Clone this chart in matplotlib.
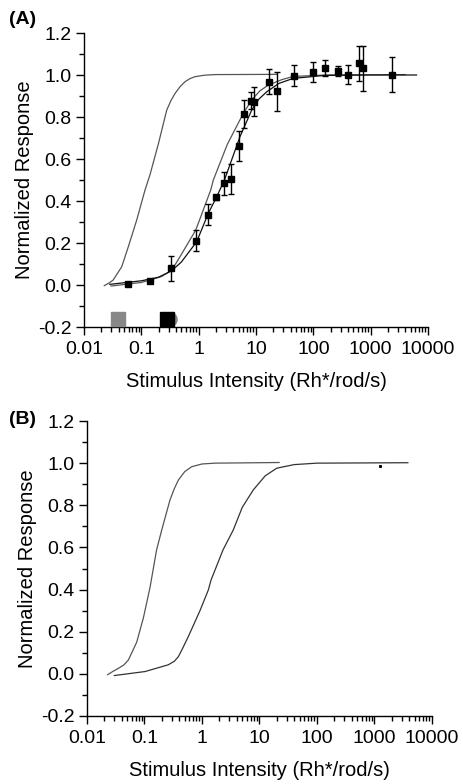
import matplotlib
matplotlib.use("Agg")
import matplotlib.pyplot as plt
import numpy as np
from matplotlib.ticker import LogLocator, MultipleLocator, NullFormatter

plt.rcParams['font.family'] = ['Liberation Sans', 'DejaVu Sans']

# ---- Panel A data ----
a_x = [0.058, 0.14, 0.334, 0.90, 1.48, 2.0, 2.77, 3.63, 5.1, 6.2, 8.1, 9.2,
       16.6, 23.5, 46, 98, 161, 267, 400, 630, 740, 2400]
a_y = [0.003, 0.021, 0.079, 0.21, 0.335, 0.417, 0.484, 0.505, 0.662, 0.814, 0.877, 0.873,
       0.968, 0.922, 0.996, 1.014, 1.033, 1.017, 1.001, 1.056, 1.032, 1.001]
a_err = [0.008, 0.008, 0.06, 0.05, 0.05, 0.01, 0.056, 0.07, 0.073, 0.066, 0.04, 0.07,
         0.06, 0.094, 0.05, 0.047, 0.038, 0.024, 0.045, 0.084, 0.107, 0.083]

# fitted / reference curves (log10 intensity, normalized response)
a_left_logx = [-1.646, -1.56, -1.49, -1.342, -1.227, -1.08, -0.936, -0.849, -0.70, -0.557,
               -0.48, -0.41, -0.326, -0.238, -0.15, -0.064, 0.1, 0.285, 1.36]
a_left_y = [-0.003, 0.01, 0.024, 0.087, 0.182, 0.31, 0.452, 0.525, 0.675, 0.833,
            0.88, 0.913, 0.944, 0.968, 0.983, 0.992, 0.999, 1.002, 1.003]

a_gray_logx = [-1.53, -1.0, -0.65, -0.47, -0.325, -0.05, 0.21, 0.256, 0.5, 0.78, 0.925,
               1.07, 1.215, 1.45, 1.65, 2.2, 3.6]
a_gray_y = [-0.005, 0.012, 0.04, 0.07, 0.135, 0.262, 0.452, 0.5, 0.67, 0.818, 0.881,
            0.925, 0.952, 0.978, 0.993, 1.0, 1.002]

a_black_logx = [-1.55, -1.0, -0.7, -0.47, -0.3, -0.035, 0.168, 0.314, 0.45, 0.72, 0.925,
                1.05, 1.187, 1.4, 1.65, 2.2, 3.0, 3.8]
a_black_y = [0.003, 0.02, 0.037, 0.068, 0.11, 0.206, 0.341, 0.42, 0.5, 0.706, 0.833,
             0.885, 0.92, 0.96, 0.984, 0.998, 1.0, 1.0]

# markers on the baseline
base_gray_sq_x = [0.039]
base_black_sq_x = [0.28]
base_gray_circ_x = [0.32]
base_y = [-0.162]

# ---- Panel B curves ----
b_left_logx = [-1.64, -1.56, -1.456, -1.36, -1.28, -1.136, -1.02, -0.904, -0.79, -0.70,
               -0.557, -0.48, -0.41, -0.3, -0.18, 0.0, 0.226, 1.34]
b_left_y = [-0.004, 0.01, 0.026, 0.042, 0.066, 0.15, 0.265, 0.41, 0.588, 0.683,
            0.825, 0.88, 0.92, 0.96, 0.983, 0.996, 1.0, 1.003]

b_right_logx = [-1.525, -0.99, -0.586, -0.48, -0.41, -0.33, -0.238, -0.035, 0.11, 0.157,
                0.365, 0.544, 0.7, 0.892, 1.1, 1.30, 1.6, 2.0, 3.58]
b_right_y = [-0.008, 0.011, 0.043, 0.06, 0.082, 0.125, 0.177, 0.30, 0.398, 0.445,
             0.588, 0.683, 0.79, 0.873, 0.94, 0.976, 0.993, 1.0, 1.002]

b_dot_x = [1259]
b_dot_y = [0.988]

xticks = [0.01, 0.1, 1, 10, 100, 1000, 10000]
xticklabels = ['0.01', '0.1', '1', '10', '100', '1000', '10000']
yticks = [-0.2, 0.0, 0.2, 0.4, 0.6, 0.8, 1.0, 1.2]
yticklabels = ['-0.2', '0.0', '0.2', '0.4', '0.6', '0.8', '1.0', '1.2']

fig = plt.figure(figsize=(4.64, 7.84), dpi=100)
axA = fig.add_axes([84/464, 1-327/784, 344/464, 294/784])
axB = fig.add_axes([87/464, 1-716/784, 345/464, 295/784])

FS = 14
LFS = 14.5


def style(ax):
    ax.set_xscale('log')
    ax.set_xlim(0.01, 10000)
    ax.set_ylim(-0.2, 1.2)
    for s in ['top', 'right']:
        ax.spines[s].set_visible(False)
    for s in ['left', 'bottom']:
        ax.spines[s].set_linewidth(1.0)
    ax.set_xticks(xticks)
    ax.set_xticklabels(xticklabels, fontsize=FS)
    ax.xaxis.set_minor_locator(LogLocator(base=10, subs=np.arange(2, 10), numticks=20))
    ax.xaxis.set_minor_formatter(NullFormatter())
    ax.set_yticks(yticks)
    ax.set_yticklabels(yticklabels, fontsize=FS)
    ax.yaxis.set_minor_locator(MultipleLocator(0.1))
    ax.tick_params(which='major', direction='out', length=6, width=1)
    ax.tick_params(axis='x', which='major', pad=4)
    ax.tick_params(axis='y', which='major', pad=3)
    ax.tick_params(which='minor', direction='out', length=3.5, width=1)
    ax.set_xlabel('Stimulus Intensity (Rh*/rod/s)', fontsize=LFS, labelpad=10)
    ax.set_ylabel('Normalized Response', fontsize=LFS, labelpad=3)


style(axA)
style(axB)

# Panel A
axA.plot(10**np.array(a_left_logx), a_left_y, color='#555555', lw=0.9)
axA.plot(10**np.array(a_gray_logx), a_gray_y, color='#555555', lw=0.9)
axA.plot(10**np.array(a_black_logx), a_black_y, color='#111111', lw=0.9)
axA.errorbar(a_x, a_y, yerr=a_err, fmt='s', color='black', ms=5, capsize=2.5,
             elinewidth=1, capthick=1)
axA.plot(base_gray_circ_x, base_y, 'o', color='#888888', ms=9.5, clip_on=False, zorder=5)
axA.plot(base_gray_sq_x, base_y, 's', color='#888888', ms=9.5, clip_on=False, zorder=5)
axA.plot(base_black_sq_x, base_y, 's', color='black', ms=9.5, clip_on=False, zorder=6)

# Panel B
axB.plot(10**np.array(b_left_logx), b_left_y, color='#555555', lw=0.9)
axB.plot(10**np.array(b_right_logx), b_right_y, color='#333333', lw=0.9)
axB.plot(b_dot_x, b_dot_y, 's', color='black', ms=1.2)

fig.text(9/464, 1-19/784, '(A)', fontsize=FS, fontweight='bold', va='center', ha='left')
fig.text(9/464, 1-420/784, '(B)', fontsize=FS, fontweight='bold', va='center', ha='left')

fig.savefig('out.png', dpi=100)
